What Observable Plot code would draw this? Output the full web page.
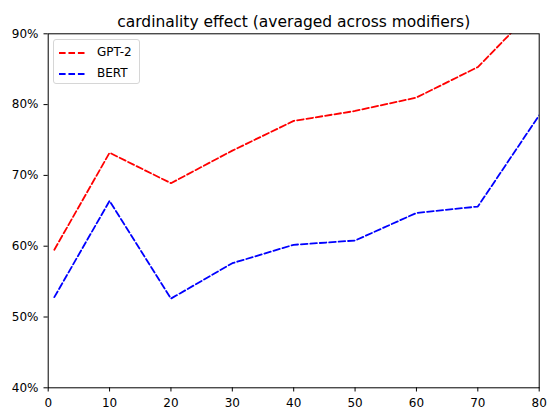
<!DOCTYPE html>
<html>
<head>
<meta charset="utf-8">
<script src="https://cdn.jsdelivr.net/npm/d3@7"></script>
<script src="https://cdn.jsdelivr.net/npm/@observablehq/plot@0.6"></script>
<style>
  html, body { margin: 0; padding: 0; background: #fff; }
  #wrap { position: relative; width: 547px; height: 410px; }
  #legend { position: absolute; left: 53px; top: 39px; width: 87px; height: 45px;
    border: 1px solid #d6d6d6; border-radius: 3px; background: rgba(255,255,255,0.8);
    box-sizing: border-box; font-family: "DejaVu Sans", sans-serif; font-size: 12px; color: #000; }
  .item { position: absolute; left: 0; width: 100%; height: 14px; }
  .item svg { position: absolute; left: 5px; top: 4px; }
  .item span { position: absolute; left: 43px; top: -1px; white-space: nowrap; line-height: 14px; }
</style>
</head>
<body>
<div id="wrap"><div id="legend"></div></div>
<script>
const title = "cardinality effect (averaged across modifiers)";
const cardinality = [1, 10, 20, 30, 40, 50, 60, 70, 80];
const gpt2 = [59.5, 73.2, 68.9, 73.5, 77.7, 79.1, 81.0, 85.3, 94.2];
const bert = [52.8, 66.4, 52.6, 57.6, 60.2, 60.8, 64.7, 65.6, 78.5];
const seriesNames = ["GPT-2", "BERT"];
const seriesColors = ["#ff0000", "#0000ff"];
const xTicks = [0, 10, 20, 30, 40, 50, 60, 70, 80];
const yTicks = [40, 50, 60, 70, 80, 90];

const rows = [];
[gpt2, bert].forEach((vals, i) => vals.forEach((v, j) => rows.push({series: seriesNames[i], x: cardinality[j], y: v})));

const dash = "6.6,2.85";
const chart = Plot.plot({
  width: 547,
  height: 410,
  marginLeft: 47.7,
  marginRight: 8.3,
  marginTop: 33.3,
  marginBottom: 22.7,
  style: {fontFamily: "DejaVu Sans, sans-serif", fontSize: "12px", color: "#000", background: "#fff"},
  x: {domain: [0, 80], ticks: xTicks, tickSize: 4.2, tickPadding: 6, label: null},
  y: {domain: [40, 90], ticks: yTicks, tickSize: 4.2, tickPadding: 5.5, tickFormat: d => d + "%", label: null},
  color: {domain: seriesNames, range: seriesColors},
  marks: [
    Plot.line(rows, {x: "x", y: "y", z: "series", stroke: "series", strokeWidth: 1.8, strokeDasharray: dash, clip: true}),
    Plot.frame({stroke: "#000", strokeWidth: 1}),
    Plot.text([title], {frameAnchor: "top", lineAnchor: "bottom", dy: -7, fontSize: 15.5, fill: "#000"})
  ]
});
document.getElementById("wrap").prepend(chart);

const legend = document.getElementById("legend");
seriesNames.forEach((name, i) => {
  const item = document.createElement("div");
  item.className = "item";
  item.style.top = (6 + i * 20.6) + "px";
  item.innerHTML = `<svg width="28" height="6"><line x1="0" x2="27" y1="3" y2="3" stroke="${seriesColors[i]}" stroke-width="1.8" stroke-dasharray="${dash}"/></svg><span>${name}</span>`;
  legend.appendChild(item);
});
</script>
</body>
</html>
